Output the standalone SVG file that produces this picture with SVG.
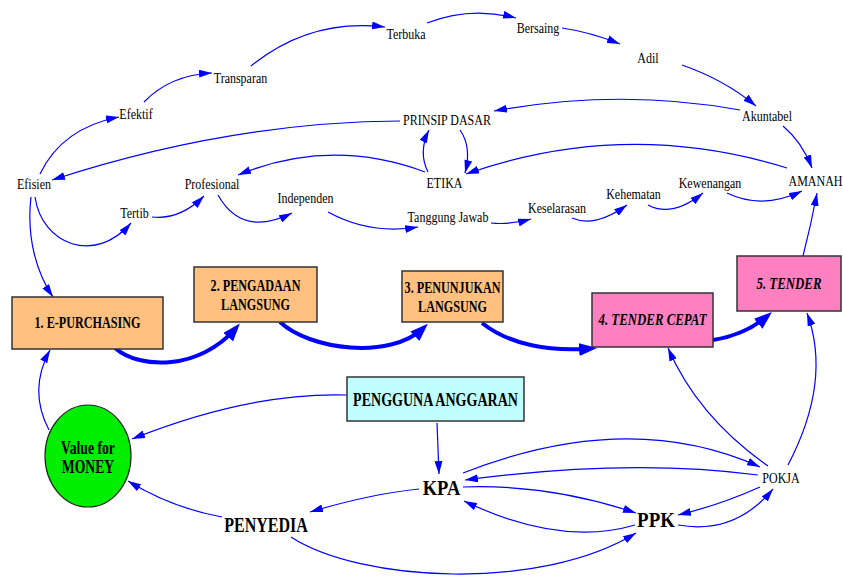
<svg xmlns="http://www.w3.org/2000/svg" width="843" height="579" viewBox="0 0 843 579" font-family="Liberation Serif, DejaVu Serif, serif">
  <style>
    text { text-anchor: middle; fill: #000; }
    .s { font-size: 15px; }
    .b { font-size: 16px; font-weight: bold; }
    .bi { font-size: 16.5px; font-weight: bold; font-style: italic; }
    .big { font-size: 22px; font-weight: bold; }
    .mid { font-size: 18px; font-weight: bold; }
    .box { stroke: #333; stroke-width: 1.5; }
    .peach { fill: #FFC080; }
    .pink { fill: #FF80C0; }
    .cyan { fill: #C0FFFF; }
    .ln { fill: none; stroke: #0000FF; stroke-width: 1.2; marker-end: url(#ah); }
    .thick { fill: none; stroke: #0000FF; stroke-width: 4; marker-end: url(#ahb); }
  </style>
  <defs>
    <marker id="ah" markerUnits="userSpaceOnUse" markerWidth="13" markerHeight="8" refX="13" refY="4" orient="auto">
      <path d="M0,0 L13,4 L0,8 z" fill="#0000FF"/>
    </marker>
    <marker id="ahb" markerUnits="userSpaceOnUse" markerWidth="19" markerHeight="13" refX="12" refY="6.5" orient="auto">
      <path d="M0,0 L18,6.5 L0,13 z" fill="#0000FF"/>
    </marker>
  </defs>

  <rect width="843" height="579" fill="#fff"/>

  <g id="connectors">
    <!-- chain of principles -->
    <path class="ln" d="M40,174 Q62,128 119,117"/>
    <path class="ln" d="M144,102 Q170,75 212,73"/>
    <path class="ln" d="M251,66 Q310,18 385,27"/>
    <path class="ln" d="M427,23 Q470,6 516,18"/>
    <path class="ln" d="M562,28 Q590,32 620,44"/>
    <path class="ln" d="M682,65 Q725,80 756,106"/>
    <path class="ln" d="M740,110 Q620,88 494,111"/>
    <path class="ln" d="M783,126 Q802,142 812,168"/>
    <path class="ln" d="M400,121 Q230,122 52,180"/>
    <path class="ln" d="M460,130 Q472,147 465,173"/>
    <path class="ln" d="M428,172 Q418,152 429,130"/>
    <path class="ln" d="M787,168 Q626,118 466,174"/>
    <path class="ln" d="M425,172 Q331,137 238,175"/>
    <path class="ln" d="M35,197 C42,245 95,265 131,223"/>
    <path class="ln" d="M31,197 C26,240 38,275 53,297"/>
    <path class="ln" d="M152,217 Q180,220 204,196"/>
    <path class="ln" d="M218,195 Q242,238 292,213"/>
    <path class="ln" d="M328,212 Q370,235 418,227"/>
    <path class="ln" d="M491,223 Q510,225 531,219"/>
    <path class="ln" d="M572,218 Q595,228 627,205"/>
    <path class="ln" d="M648,205 Q672,218 703,193"/>
    <path class="ln" d="M727,193 Q762,210 802,191"/>
    <path class="ln" d="M803,256 Q811,225 817,193"/>

    <!-- method sequence -->
    <path class="thick" d="M115,348 C140,370 200,370 236,328"/>
    <path class="thick" d="M280,322 C310,350 390,360 423.6,328"/>
    <path class="thick" d="M482,323 C510,345 550,352 591,348.5"/>
    <path class="thick" d="M713,340 Q745,335 767.4,316"/>

    <!-- actors -->
    <path class="ln" d="M49,430 Q28,390 50,350"/>
    <path class="ln" d="M347,395 Q250,392 132,439"/>
    <path class="ln" d="M437,423 L439,474"/>
    <path class="ln" d="M222,517 Q172,508 128,481"/>
    <path class="ln" d="M419,489 Q370,494 310,512"/>
    <path class="ln" d="M291,537 C360,582 540,592 636,533"/>
    <path class="ln" d="M463,473 Q629,408 760,467"/>
    <path class="ln" d="M758,475 Q629,458 465,480"/>
    <path class="ln" d="M463,487 Q550,484 636,513"/>
    <path class="ln" d="M635,525 Q560,547 464,501"/>
    <path class="ln" d="M760,487 Q720,505 678,515"/>
    <path class="ln" d="M678,525 Q735,535 773,489"/>
    <path class="ln" d="M768,466 Q698,417 668,348"/>
    <path class="ln" d="M788,465 Q832,381 807,313"/>
  </g>

  <!-- principle labels -->
  <g id="terbuka"><text class="s" transform="matrix(0.8 0 0 1 406 39)">Terbuka</text></g>
  <g id="bersaing"><text class="s" transform="matrix(0.8 0 0 1 538 33)">Bersaing</text></g>
  <g id="adil"><text class="s" transform="matrix(0.8 0 0 1 648 63)">Adil</text></g>
  <g id="transparan"><text class="s" transform="matrix(0.8 0 0 1 240.5 83)">Transparan</text></g>
  <g id="efektif"><text class="s" transform="matrix(0.8 0 0 1 136 119)">Efektif</text></g>
  <g id="prinsip-dasar"><text class="s" transform="matrix(0.8 0 0 1 447 125)">PRINSIP DASAR</text></g>
  <g id="akuntabel"><text class="s" transform="matrix(0.8 0 0 1 767 121)">Akuntabel</text></g>
  <g id="efisien"><text class="s" transform="matrix(0.8 0 0 1 34 189)">Efisien</text></g>
  <g id="profesional"><text class="s" transform="matrix(0.8 0 0 1 212 189)">Profesional</text></g>
  <g id="etika"><text class="s" transform="matrix(0.8 0 0 1 444.5 188)">ETIKA</text></g>
  <g id="amanah"><text class="s" transform="matrix(0.8 0 0 1 815.5 186)">AMANAH</text></g>
  <g id="independen"><text class="s" transform="matrix(0.8 0 0 1 305.5 203)">Independen</text></g>
  <g id="tanggung-jawab"><text class="s" transform="matrix(0.8 0 0 1 448 222)">Tanggung Jawab</text></g>
  <g id="keselarasan"><text class="s" transform="matrix(0.8 0 0 1 557 213)">Keselarasan</text></g>
  <g id="kehematan"><text class="s" transform="matrix(0.8 0 0 1 633.5 199)">Kehematan</text></g>
  <g id="kewenangan"><text class="s" transform="matrix(0.8 0 0 1 710 188)">Kewenangan</text></g>
  <g id="tertib"><text class="s" transform="matrix(0.8 0 0 1 134.5 218)">Tertib</text></g>

  <!-- procurement methods -->
  <g id="e-purchasing">
    <rect class="box peach" x="12" y="297" width="151" height="52"/>
    <text class="b" transform="matrix(0.76 0 0 1 87.5 328)">1. E-PURCHASING</text>
  </g>
  <g id="pengadaan-langsung">
    <rect class="box peach" x="194" y="267" width="123" height="55"/>
    <text class="b" transform="matrix(0.76 0 0 1 255.5 291)">2. PENGADAAN</text>
    <text class="b" transform="matrix(0.76 0 0 1 255.5 310)">LANGSUNG</text>
  </g>
  <g id="penunjukan-langsung">
    <rect class="box peach" x="402" y="271" width="101" height="51"/>
    <text class="b" transform="matrix(0.76 0 0 1 452.5 293)">3. PENUNJUKAN</text>
    <text class="b" transform="matrix(0.76 0 0 1 452.5 312)">LANGSUNG</text>
  </g>
  <g id="tender-cepat">
    <rect class="box pink" x="592" y="293" width="121" height="54"/>
    <text class="bi" transform="matrix(0.78 0 0 1 652.5 325)">4. TENDER CEPAT</text>
  </g>
  <g id="tender">
    <rect class="box pink" x="737" y="256" width="104" height="55"/>
    <text class="bi" transform="matrix(0.78 0 0 1 789 289)">5. TENDER</text>
  </g>

  <!-- actors -->
  <g id="pengguna-anggaran">
    <rect class="box cyan" x="347" y="377" width="177" height="44"/>
    <text class="mid" transform="matrix(0.78 0 0 1 435.5 406)">PENGGUNA ANGGARAN</text>
  </g>
  <g id="value-for-money">
    <ellipse cx="88" cy="456" rx="43" ry="51" fill="#00EE00" stroke="#222" stroke-width="1.2"/>
    <text class="mid" transform="matrix(0.76 0 0 1 88 454)">Value for</text>
    <text class="mid" transform="matrix(0.76 0 0 1 88 473)">MONEY</text>
  </g>
  <g id="kpa"><text class="big" transform="matrix(0.84 0 0 1 441.5 495)">KPA</text></g>
  <g id="ppk"><text class="big" transform="matrix(0.86 0 0 1 656 527)">PPK</text></g>
  <g id="penyedia"><text class="big" style="font-size:20px" transform="matrix(0.8 0 0 1 266 532)">PENYEDIA</text></g>
  <g id="pokja"><text class="s" transform="matrix(0.8 0 0 1 781 483)">POKJA</text></g>
</svg>
